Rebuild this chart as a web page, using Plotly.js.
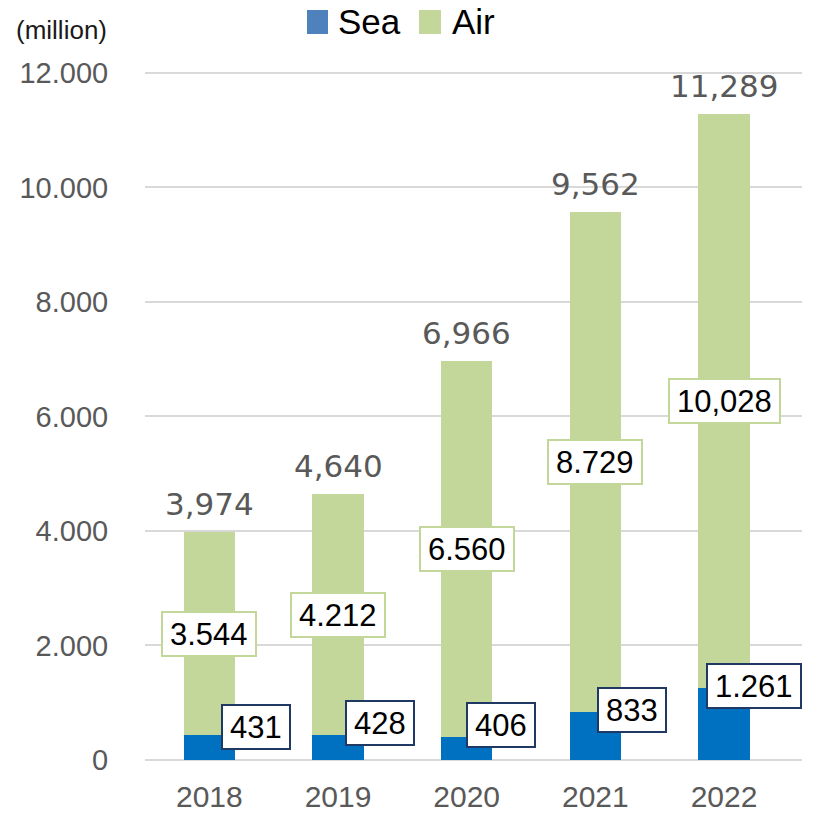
<!DOCTYPE html>
<html>
<head>
<meta charset="utf-8">
<script src="https://cdn.plot.ly/plotly-3.0.1.min.js"></script>
<style>html,body{margin:0;padding:0;background:#fff;}#chart{width:816px;height:814px;}</style>
</head>
<body>
<div id="chart"></div>
<script>
const years = ['2018', '2019', '2020', '2021', '2022'];
const sea = [431, 428, 406, 833, 1261];
const air = [3544, 4212, 6560, 8729, 10028];
const seaLabels = ['431', '428', '406', '833', '1.261'];
const airLabels = ['3.544', '4.212', '6.560', '8.729', '10,028'];
const totalLabels = ['3,974', '4,640', '6,966', '9,562', '11,289'];
const yTicks = [0, 2000, 4000, 6000, 8000, 10000, 12000];
const yTickText = ['0', '2.000', '4.000', '6.000', '8.000', '10.000', '12.000'];

// label nudges in pixels (style only)
const seaLabelShiftX = [47, 42, 34, 37, 30];
const seaLabelShiftY = [8, 12, 12, 2, 2];

const SEA = '#0070C0', AIR = '#C4D79B', SEA_LEGEND = '#4F81BD';
const FONT = 'Liberation Sans, Arial, sans-serif';

const M = {l: 145, r: 14, t: 70, b: 54};
const W = 816, H = 814;
const pw = W - M.l - M.r, ph = H - M.t - M.b;
const px = x => (x - M.l) / pw;
const py = y => (H - M.b - y) / ph;

const traces = [
  {type: 'bar', name: 'Sea', x: years, y: sea, marker: {color: SEA}, showlegend: false},
  {type: 'bar', name: 'Air', x: years, y: air, marker: {color: AIR}, showlegend: false}
];

const pad = '<span style="font-size:18px">\u00a0</span>';
const annotations = [];
years.forEach((yr, i) => {
  const total = sea[i] + air[i];
  annotations.push({
    x: i, y: sea[i] + air[i] / 2, xref: 'x', yref: 'y', text: pad + airLabels[i] + pad, showarrow: false,
    font: {family: FONT, size: 31, color: '#000'}, bgcolor: '#fff', bordercolor: AIR, borderwidth: 2, borderpad: 2, height: 38
  });
  annotations.push({
    x: i, y: sea[i], xref: 'x', yref: 'y', xshift: seaLabelShiftX[i], yshift: seaLabelShiftY[i],
    text: pad + seaLabels[i] + pad, showarrow: false,
    font: {family: FONT, size: 31, color: '#000'}, bgcolor: '#fff', bordercolor: '#1F3864', borderwidth: 2, borderpad: 2, height: 38
  });
  annotations.push({
    x: i, y: total, xref: 'x', yref: 'y', yanchor: 'bottom', yshift: 8, text: totalLabels[i], showarrow: false,
    font: {family: 'DejaVu Sans, Verdana, sans-serif', size: 31, color: '#595959'}
  });
});
annotations.push({
  xref: 'paper', yref: 'paper', x: px(14), y: py(30), xanchor: 'left', yanchor: 'middle',
  text: '(million)', showarrow: false, font: {family: FONT, size: 26, color: '#1a1a1a'}
});
// legend text
annotations.push({xref: 'paper', yref: 'paper', x: px(336), y: py(22), xanchor: 'left', yanchor: 'middle',
  text: 'Sea', showarrow: false, font: {family: FONT, size: 35, color: '#000'}});
annotations.push({xref: 'paper', yref: 'paper', x: px(450), y: py(22), xanchor: 'left', yanchor: 'middle',
  text: 'Air', showarrow: false, font: {family: FONT, size: 35, color: '#000'}});

const shapes = [
  {type: 'rect', xref: 'paper', yref: 'paper', x0: px(307), x1: px(328), y0: py(34), y1: py(10), fillcolor: SEA_LEGEND, line: {width: 0}},
  {type: 'rect', xref: 'paper', yref: 'paper', x0: px(419), x1: px(441), y0: py(34), y1: py(10), fillcolor: AIR, line: {width: 0}}
];

const layout = {
  width: W, height: H,
  margin: M,
  paper_bgcolor: '#fff', plot_bgcolor: '#fff',
  barmode: 'stack', bargap: 0.6,
  font: {family: FONT},
  showlegend: false,
  xaxis: {type: 'category', showgrid: false, zeroline: false, showline: false, ticks: 'outside', ticklen: 10, tickcolor: 'rgba(0,0,0,0)',
    tickfont: {family: FONT, size: 30, color: '#595959'}},
  yaxis: {range: [0, 12050], tickvals: yTicks, ticktext: yTickText, showgrid: true, gridcolor: '#D9D9D9', gridwidth: 2,
    zeroline: true, zerolinecolor: '#D9D9D9', zerolinewidth: 2, showline: false, ticks: 'outside', ticklen: 30, tickcolor: 'rgba(0,0,0,0)',
    tickfont: {family: FONT, size: 29, color: '#595959'}},
  annotations: annotations,
  shapes: shapes
};

Plotly.newPlot('chart', traces, layout, {displayModeBar: false});
</script>
</body>
</html>
